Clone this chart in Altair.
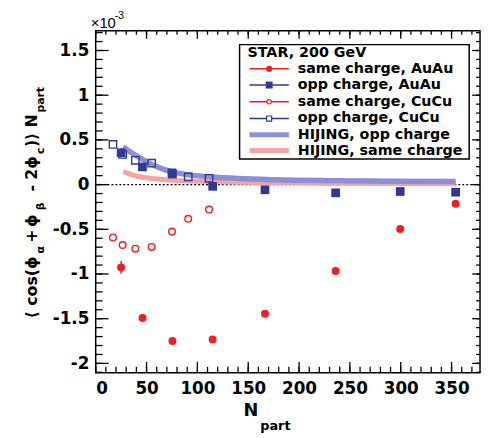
import altair as alt
import pandas as pd

# ---------------- data (units of 1e-3) ----------------
AU_NPART = [25, 46, 75.5, 115, 166.5, 236, 299.5, 354]
AU_SAME = [-0.926, -1.492, -1.75, -1.734, -1.444, -0.967, -0.496, -0.213]
AU_SAME_ERR = [0.07, 0.035, 0.025, 0.025, 0.02, 0.02, 0.02, 0.02]
AU_OPP = [0.356, 0.198, 0.118, -0.019, -0.058, -0.092, -0.077, -0.085]
AU_OPP_ERR = [0.05, 0.035, 0.025, 0.025, 0.02, 0.02, 0.02, 0.02]

CU_NPART = [17, 26.5, 39, 55, 75, 91, 111.5]
CU_SAME = [-0.592, -0.676, -0.717, -0.698, -0.526, -0.383, -0.279]
CU_OPP = [0.449, 0.338, 0.272, 0.239, 0.13, 0.085, 0.07]

HIJING_NPART = [27, 36, 45, 58, 74, 88, 112, 140, 177, 230, 290, 354]
HIJING_OPP = [0.42, 0.35, 0.29, 0.21, 0.145, 0.115, 0.088, 0.068, 0.054, 0.044, 0.038, 0.034]
HIJING_SAME = [0.145, 0.11, 0.085, 0.065, 0.05, 0.042, 0.033, 0.026, 0.02, 0.015, 0.012, 0.01]

X_TICKS = [0, 50, 100, 150, 200, 250, 300, 350]
Y_TICKS = [-2, -1.5, -1, -0.5, 0, 0.5, 1, 1.5]

LEGEND_TITLE = "STAR, 200 GeV"
LEGEND_LABELS = [
    "same charge, AuAu",
    "opp charge, AuAu",
    "same charge, CuCu",
    "opp charge, CuCu",
    "HIJING, opp charge",
    "HIJING, same charge",
]

# ---------------- style ----------------
RED = "#f02020"
BLUE = "#2d3a98"
HBLUE = "#8a8fd8"
HRED = "#f5a3a3"
FONT = "DejaVu Sans"
W, H = 390, 347

xs = alt.Scale(domain=[0, 378], nice=False, zero=False)
ys = alt.Scale(domain=[-2.105, 1.72], nice=False, zero=False)
xaxis = alt.Axis(values=X_TICKS, ticks=False, domain=False, grid=False, title=None,
                 labelPadding=8, labelFont=FONT, labelFontSize=17, labelFontWeight="bold",
                 labelColor="black", labelOverlap=False)
yaxis = alt.Axis(values=Y_TICKS, ticks=False, domain=False, grid=False, title=None,
                 labelPadding=7, labelFont=FONT, labelFontSize=17, labelFontWeight="bold",
                 labelColor="black", labelOverlap=False, labelExpr="'' + datum.value")
X = alt.X("x:Q", scale=xs, axis=xaxis)
Y = alt.Y("y:Q", scale=ys, axis=yaxis)

one = pd.DataFrame({"a": [0]})
layers = []

# legend box
layers.append(alt.Chart(one).mark_rect(fill="white", stroke="black", strokeWidth=1.5).encode(
    x=alt.value(146), x2=alt.value(379), y=alt.value(14), y2=alt.value(130)))

# zero dotted line
layers.append(alt.Chart(pd.DataFrame({"y": [0]})).mark_rule(
    color="black", strokeDash=[2, 2], strokeWidth=1.3).encode(
    y=Y, x=alt.value(0), x2=alt.value(W)))

# HIJING bands
hij = pd.DataFrame({"x": HIJING_NPART, "same": HIJING_SAME, "opp": HIJING_OPP})
layers.append(alt.Chart(hij).transform_calculate(y="datum.same").mark_line(
    color=HRED, strokeWidth=5, interpolate="monotone").encode(x=X, y=Y))
layers.append(alt.Chart(hij).transform_calculate(y="datum.opp").mark_line(
    color=HBLUE, strokeWidth=5.5, interpolate="monotone").encode(x=X, y=Y))

# error bars
au_s = pd.DataFrame({"x": AU_NPART, "y": AU_SAME, "e": AU_SAME_ERR})
au_o = pd.DataFrame({"x": AU_NPART, "y": AU_OPP, "e": AU_OPP_ERR})
for df, col in [(au_s, RED), (au_o, BLUE)]:
    layers.append(alt.Chart(df).transform_calculate(
        y1="datum.y - datum.e", y2="datum.y + datum.e").mark_rule(
        color=col, strokeWidth=1.5).encode(
        x=X, y=alt.Y("y1:Q", scale=ys, axis=yaxis), y2="y2:Q"))

# data markers
cu_s = pd.DataFrame({"x": CU_NPART, "y": CU_SAME})
cu_o = pd.DataFrame({"x": CU_NPART, "y": CU_OPP})
layers.append(alt.Chart(cu_s).mark_point(shape="circle", filled=False, color=RED,
                                         strokeWidth=1.4, size=46, opacity=1).encode(x=X, y=Y))
layers.append(alt.Chart(cu_o).mark_point(shape="square", filled=False, color=BLUE,
                                         strokeWidth=1.4, size=56, opacity=1).encode(x=X, y=Y))
layers.append(alt.Chart(au_o).mark_point(shape="square", filled=True, color=BLUE,
                                         size=78, opacity=1).encode(x=X, y=Y))
layers.append(alt.Chart(au_s).mark_point(shape="circle", filled=True, color=RED,
                                         size=66, opacity=1).encode(x=X, y=Y))

# inward ticks
def frange(a, b, s):
    out, i = [], 0
    while a + i * s <= b + 1e-9:
        out.append(round(a + i * s, 4))
        i += 1
    return out

y_minor = frange(-2.1, 1.7, 0.1)
x_minor = frange(0, 370, 10)
x_major = X_TICKS
y_major = Y_TICKS
TK = dict(color="black", strokeWidth=1.3)
for vals, x0, x1 in [(y_minor, 0, 7), (y_major, 0, 13), (y_minor, W, W - 4), (y_major, W, W - 8)]:
    layers.append(alt.Chart(pd.DataFrame({"y": vals})).mark_rule(**TK).encode(
        y=Y, x=alt.value(x0), x2=alt.value(x1)))
for vals, y0, y1 in [(x_minor, H, H - 6), (x_major, H, H - 11), (x_minor, 0, 4), (x_major, 0, 8)]:
    layers.append(alt.Chart(pd.DataFrame({"x": vals})).mark_rule(**TK).encode(
        x=X, y=alt.value(y0), y2=alt.value(y1)))

# legend entries
LT = dict(font=FONT, fontSize=14.5, fontWeight="bold", align="left", baseline="middle", color="black")
layers.append(alt.Chart(one).mark_text(**LT).encode(
    x=alt.value(154), y=alt.value(22.5), text=alt.value(LEGEND_TITLE)))
rows_y = [38.5, 55, 72, 89, 105.5, 121.5]
styles = [
    (RED, 1.5, dict(shape="circle", filled=True, size=40)),
    (BLUE, 1.5, dict(shape="square", filled=True, size=50)),
    (RED, 1.5, dict(shape="circle", filled=False, size=20, strokeWidth=1.2)),
    (BLUE, 1.5, dict(shape="square", filled=False, size=26, strokeWidth=1.2)),
    (HBLUE, 5, None),
    (HRED, 5, None),
]
for yy, lab, (col, sw, mk) in zip(rows_y, LEGEND_LABELS, styles):
    layers.append(alt.Chart(one).mark_rule(color=col, strokeWidth=sw).encode(
        x=alt.value(156), x2=alt.value(196), y=alt.value(yy)))
    if mk is not None:
        extra = {}
        if not mk.get("filled"):
            extra["fill"] = "white"
        layers.append(alt.Chart(one).mark_point(color=col, opacity=1, **mk, **extra).encode(
            x=alt.value(176), y=alt.value(yy)))
    layers.append(alt.Chart(one).mark_text(**LT).encode(
        x=alt.value(205), y=alt.value(yy), text=alt.value(lab)))

# y-axis title pieces (rotated)
YT = [
    ("⟨", 320, False), ("cos(ϕ", 307, False), ("α", 254, True), ("+", 243, False),
    ("ϕ", 227, False), ("β", 210, True), ("-", 191, False), ("2ϕ", 179, False),
    ("c", 153, True), (")⟩", 146, False), ("N", 126, False), ("part", 111, True),
]
for txt, py, sub in YT:
    layers.append(alt.Chart(one).mark_text(
        font=FONT, fontWeight="bold", fontSize=11 if sub else 16, angle=270,
        align="left", baseline="alphabetic", color="black").encode(
        x=alt.value(-52 if sub else -60), y=alt.value(py - 28), text=alt.value(txt)))

# x-axis title
layers.append(alt.Chart(one).mark_text(font=FONT, fontWeight="bold", fontSize=18, align="left",
                                       baseline="alphabetic", color="black").encode(
    x=alt.value(150), y=alt.value(391), text=alt.value("N")))
layers.append(alt.Chart(one).mark_text(font=FONT, fontWeight="bold", fontSize=13, align="left",
                                       baseline="alphabetic", color="black").encode(
    x=alt.value(167), y=alt.value(405), text=alt.value("part")))

# exponent label
layers.append(alt.Chart(one).mark_text(font="Liberation Sans", fontSize=15, align="left",
                                       baseline="alphabetic", color="black").encode(
    x=alt.value(-5), y=alt.value(-3), text=alt.value("×10")))
layers.append(alt.Chart(one).mark_text(font="Liberation Sans", fontSize=11, align="left",
                                       baseline="alphabetic", color="black").encode(
    x=alt.value(19), y=alt.value(-12), text=alt.value("-3")))

chart = alt.layer(*layers).properties(
    width=W, height=H,
    padding={"left": 89, "top": 20, "right": 2, "bottom": 62},
    autosize=alt.AutoSizeParams(type="none"),
    background="white",
).configure_view(stroke="black", strokeWidth=1.5)

chart.save("out.html", embed_options={"renderer": "svg", "actions": False})
